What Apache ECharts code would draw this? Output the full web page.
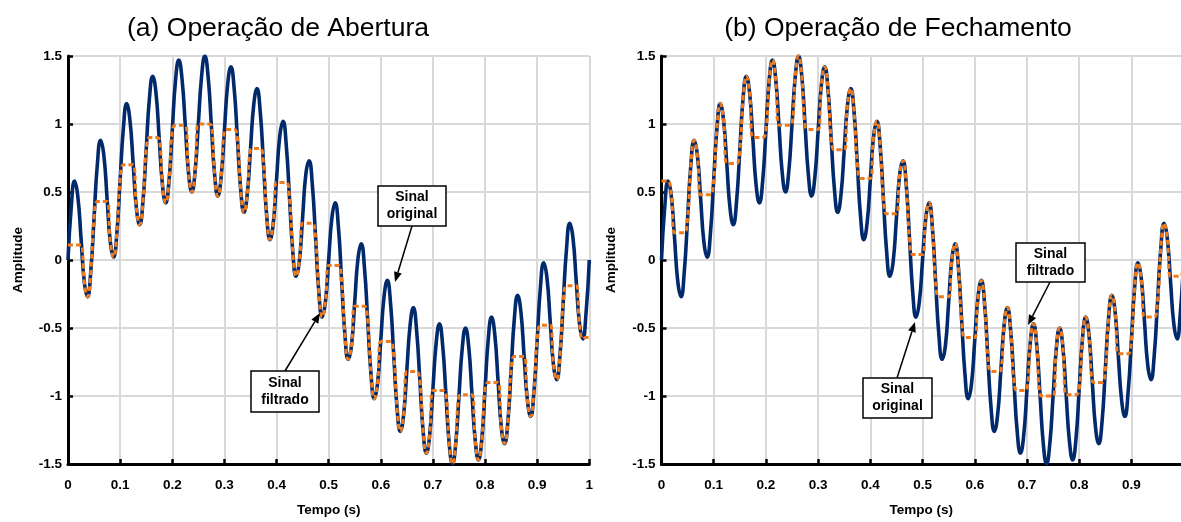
<!DOCTYPE html>
<html>
<head>
<meta charset="utf-8">
<script src="https://cdn.jsdelivr.net/npm/echarts@6/dist/echarts.min.js"></script>
<style>html,body{margin:0;padding:0;background:#fff}#c{width:1181px;height:522px}</style>
</head>
<body>
<div id="c"></div>
<script>
const FONT = '"Liberation Sans", Arial, Helvetica, sans-serif';

// sample times (s)
const time = [
0,0.00625,0.0125,0.01875,0.025,0.03125,0.0375,0.04375,
0.05,0.05625,0.0625,0.06875,0.075,0.08125,0.0875,0.09375,
0.1,0.10625,0.1125,0.11875,0.125,0.13125,0.1375,0.14375,
0.15,0.15625,0.1625,0.16875,0.175,0.18125,0.1875,0.19375,
0.2,0.20625,0.2125,0.21875,0.225,0.23125,0.2375,0.24375,
0.25,0.25625,0.2625,0.26875,0.275,0.28125,0.2875,0.29375,
0.3,0.30625,0.3125,0.31875,0.325,0.33125,0.3375,0.34375,
0.35,0.35625,0.3625,0.36875,0.375,0.38125,0.3875,0.39375,
0.4,0.40625,0.4125,0.41875,0.425,0.43125,0.4375,0.44375,
0.45,0.45625,0.4625,0.46875,0.475,0.48125,0.4875,0.49375,
0.5,0.50625,0.5125,0.51875,0.525,0.53125,0.5375,0.54375,
0.55,0.55625,0.5625,0.56875,0.575,0.58125,0.5875,0.59375,
0.6,0.60625,0.6125,0.61875,0.625,0.63125,0.6375,0.64375,
0.65,0.65625,0.6625,0.66875,0.675,0.68125,0.6875,0.69375,
0.7,0.70625,0.7125,0.71875,0.725,0.73125,0.7375,0.74375,
0.75,0.75625,0.7625,0.76875,0.775,0.78125,0.7875,0.79375,
0.8,0.80625,0.8125,0.81875,0.825,0.83125,0.8375,0.84375,
0.85,0.85625,0.8625,0.86875,0.875,0.88125,0.8875,0.89375,
0.9,0.90625,0.9125,0.91875,0.925,0.93125,0.9375,0.94375,
0.95,0.95625,0.9625,0.96875,0.975,0.98125,0.9875,0.99375,
1
];

// original signal
const original = [
0,0.39,0.58,0.47,0.16,-0.16,-0.27,-0.08,
0.31,0.70,0.88,0.77,0.45,0.13,0.02,0.20,
0.59,0.97,1.15,1.03,0.71,0.38,0.26,0.43,
0.81,1.19,1.35,1.23,0.89,0.55,0.42,0.58,
0.95,1.32,1.47,1.33,0.99,0.64,0.50,0.65,
1.00,1.35,1.50,1.35,0.99,0.63,0.47,0.61,
0.95,1.29,1.42,1.26,0.89,0.52,0.35,0.48,
0.81,1.14,1.26,1.09,0.71,0.32,0.15,0.27,
0.59,0.91,1.02,0.84,0.45,0.06,-0.12,-0.01,
0.31,0.63,0.73,0.55,0.16,-0.24,-0.42,-0.31,
0,0.31,0.42,0.24,-0.16,-0.55,-0.73,-0.63,
-0.31,0.01,0.12,-0.06,-0.45,-0.84,-1.02,-0.91,
-0.59,-0.27,-0.15,-0.32,-0.71,-1.09,-1.26,-1.14,
-0.81,-0.48,-0.35,-0.52,-0.89,-1.26,-1.42,-1.29,
-0.95,-0.61,-0.47,-0.63,-0.99,-1.35,-1.50,-1.35,
-1.00,-0.65,-0.50,-0.64,-0.99,-1.33,-1.47,-1.32,
-0.95,-0.58,-0.42,-0.55,-0.89,-1.23,-1.35,-1.19,
-0.81,-0.43,-0.26,-0.38,-0.71,-1.03,-1.15,-0.97,
-0.59,-0.20,-0.02,-0.13,-0.45,-0.77,-0.88,-0.70,
-0.31,0.08,0.27,0.16,-0.16,-0.47,-0.58,-0.39,
0
];

// filtered signal, opening (a)
const opening = [
0.11,0.11,0.11,0.11,0.11,-0.16,-0.27,-0.08,
0.31,0.43,0.43,0.43,0.43,0.13,0.02,0.20,
0.59,0.70,0.70,0.70,0.70,0.38,0.26,0.43,
0.81,0.90,0.90,0.90,0.89,0.55,0.42,0.58,
0.95,0.99,0.99,0.99,0.99,0.64,0.50,0.65,
1.00,1.00,1.00,1.00,0.99,0.63,0.47,0.61,
0.95,0.96,0.96,0.96,0.89,0.52,0.35,0.48,
0.81,0.82,0.82,0.82,0.71,0.32,0.15,0.27,
0.57,0.57,0.57,0.57,0.45,0.06,-0.12,-0.01,
0.27,0.27,0.27,0.27,0.16,-0.24,-0.42,-0.31,
-0.04,-0.04,-0.04,-0.04,-0.16,-0.55,-0.73,-0.63,
-0.34,-0.34,-0.34,-0.34,-0.45,-0.84,-1.02,-0.91,
-0.60,-0.60,-0.60,-0.60,-0.71,-1.09,-1.26,-1.14,
-0.82,-0.82,-0.82,-0.82,-0.89,-1.26,-1.42,-1.29,
-0.96,-0.96,-0.96,-0.96,-0.99,-1.35,-1.50,-1.35,
-1.00,-0.99,-0.99,-0.99,-0.99,-1.33,-1.47,-1.32,
-0.95,-0.90,-0.90,-0.90,-0.90,-1.23,-1.35,-1.19,
-0.81,-0.71,-0.71,-0.71,-0.71,-1.03,-1.15,-0.97,
-0.59,-0.48,-0.48,-0.48,-0.48,-0.77,-0.88,-0.70,
-0.31,-0.19,-0.19,-0.19,-0.19,-0.47,-0.58,-0.57,
-0.57
];

// filtered signal, closing (b)
const closing = [
0.58,0.58,0.58,0.47,0.20,0.20,0.20,0.20,
0.31,0.70,0.88,0.77,0.48,0.48,0.48,0.48,
0.59,0.97,1.15,1.03,0.71,0.71,0.71,0.71,
0.81,1.19,1.35,1.23,0.90,0.90,0.90,0.90,
0.95,1.32,1.47,1.33,0.99,0.99,0.99,0.99,
1.00,1.35,1.50,1.35,0.99,0.96,0.96,0.96,
0.96,1.29,1.42,1.26,0.89,0.81,0.81,0.81,
0.81,1.14,1.26,1.09,0.71,0.60,0.60,0.60,
0.60,0.91,1.02,0.84,0.45,0.34,0.34,0.34,
0.34,0.63,0.73,0.55,0.16,0.04,0.04,0.04,
0.04,0.31,0.42,0.24,-0.16,-0.27,-0.27,-0.27,
-0.27,0.01,0.12,-0.06,-0.45,-0.57,-0.57,-0.57,
-0.57,-0.27,-0.15,-0.32,-0.71,-0.82,-0.82,-0.82,
-0.81,-0.48,-0.35,-0.52,-0.89,-0.96,-0.96,-0.96,
-0.95,-0.61,-0.47,-0.63,-0.99,-1.00,-1.00,-1.00,
-1.00,-0.65,-0.50,-0.64,-0.99,-0.99,-0.99,-0.99,
-0.95,-0.58,-0.42,-0.55,-0.89,-0.90,-0.90,-0.90,
-0.81,-0.43,-0.26,-0.38,-0.69,-0.69,-0.69,-0.69,
-0.59,-0.20,-0.02,-0.13,-0.42,-0.42,-0.42,-0.42,
-0.31,0.08,0.27,0.16,-0.12,-0.12,-0.12,-0.12,
0
];

const panelTitles = ['(a) Operação de Abertura', '(b) Operação de Fechamento'];
const xName = 'Tempo (s)';
const yName = 'Amplitude';
const labelOriginal = 'Sinal\noriginal';
const labelFiltered = 'Sinal\nfiltrado';

const BLUE = '#002A6C';
const ORANGE = '#EF7B1C';

function pairs(ys) { return time.map((x, i) => [x, ys[i]]); }

function makeX(gridIndex, max, full) {
  return {
    type: 'value', gridIndex, min: 0, max, interval: 0.1,
    name: xName, nameLocation: 'middle', nameGap: 39,
    nameTextStyle: { color: '#000', fontWeight: 'bold', fontSize: 13.5, fontFamily: FONT },
    axisLine: { onZero: false, lineStyle: { color: '#000', width: 3 } },
    axisTick: { inside: true, length: 5, lineStyle: { color: '#000', width: 2.5 } },
    axisLabel: { color: '#000', fontWeight: 'bold', fontSize: 13.5, fontFamily: FONT, margin: 14,
                 showMaxLabel: full },
    splitLine: { show: true, showMaxLine: full, lineStyle: { color: '#d9d9d9', width: 2 } }
  };
}
function makeY(gridIndex) {
  return {
    type: 'value', gridIndex, min: -1.5, max: 1.5, interval: 0.5,
    name: yName, nameLocation: 'middle', nameGap: 43,
    nameTextStyle: { color: '#000', fontWeight: 'bold', fontSize: 13.5, fontFamily: FONT },
    axisLine: { onZero: false, lineStyle: { color: '#000', width: 3 } },
    axisTick: { inside: true, length: 5, lineStyle: { color: '#000', width: 2.5 } },
    axisLabel: { color: '#000', fontWeight: 'bold', fontSize: 13.5, fontFamily: FONT, margin: 6 },
    splitLine: { show: true, lineStyle: { color: '#d9d9d9', width: 2 } }
  };
}
function blueSeries(i) {
  return { type: 'line', xAxisIndex: i, yAxisIndex: i, data: pairs(original), showSymbol: false,
    smooth: 0.5, lineStyle: { color: BLUE, width: 3.6 }, z: 2, silent: true };
}
function orangeSeries(i, ys) {
  return { type: 'line', xAxisIndex: i, yAxisIndex: i, data: pairs(ys), showSymbol: false,
    smooth: 0.5, lineStyle: { color: ORANGE, width: 3, type: [5, 3] }, z: 3, silent: true };
}

function box(x, y, w, h, text) {
  return [
    { type: 'rect', z: 100, shape: { x, y, width: w, height: h },
      style: { fill: '#fff', stroke: '#000', lineWidth: 1.5 } },
    { type: 'text', z: 101, x: x + w / 2, y: y + h / 2,
      style: { text, align: 'center', verticalAlign: 'middle', font: 'bold 14px ' + FONT,
               fill: '#000', lineHeight: 17 } }
  ];
}
function arrow(x1, y1, x2, y2) {
  const dx = x2 - x1, dy = y2 - y1, L = Math.hypot(dx, dy), ux = dx / L, uy = dy / L;
  const hl = 10, hw = 4;
  const bx = x2 - ux * hl, by = y2 - uy * hl;
  return [
    { type: 'line', z: 100, shape: { x1, y1, x2: bx, y2: by }, style: { stroke: '#000', lineWidth: 1.5 } },
    { type: 'polygon', z: 100, shape: { points: [[x2, y2], [bx - uy * hw, by + ux * hw], [bx + uy * hw, by - ux * hw]] },
      style: { fill: '#000' } }
  ];
}

const graphics = [
  { type: 'text', x: 278, y: 29, style: { text: panelTitles[0], align: 'center', verticalAlign: 'middle',
      font: '26.5px ' + FONT, fill: '#000' } },
  { type: 'text', x: 898, y: 29, style: { text: panelTitles[1], align: 'center', verticalAlign: 'middle',
      font: '26.5px ' + FONT, fill: '#000' } },
  ...arrow(412, 226, 395, 282), ...box(378, 186, 68, 40, labelOriginal),
  ...arrow(285, 371, 320, 313), ...box(251, 371, 68, 41, labelFiltered),
  ...arrow(1050, 282, 1028, 325), ...box(1016, 243, 69, 39, labelFiltered),
  ...arrow(897, 378, 915, 322), ...box(863, 378, 69, 40, labelOriginal)
];

const chart = echarts.init(document.getElementById('c'), null, { renderer: 'canvas' });
chart.setOption({
  animation: false,
  backgroundColor: '#fff',
  grid: [
    { left: 68, top: 56, width: 521.3, height: 412.7 },
    { left: 661.5, top: 56, width: 520, height: 412.7 }
  ],
  xAxis: [makeX(0, 1, true), makeX(1, 0.995, false)],
  yAxis: [makeY(0), makeY(1)],
  series: [blueSeries(0), orangeSeries(0, opening), blueSeries(1), orangeSeries(1, closing)],
  graphic: graphics
});
</script>
</body>
</html>
